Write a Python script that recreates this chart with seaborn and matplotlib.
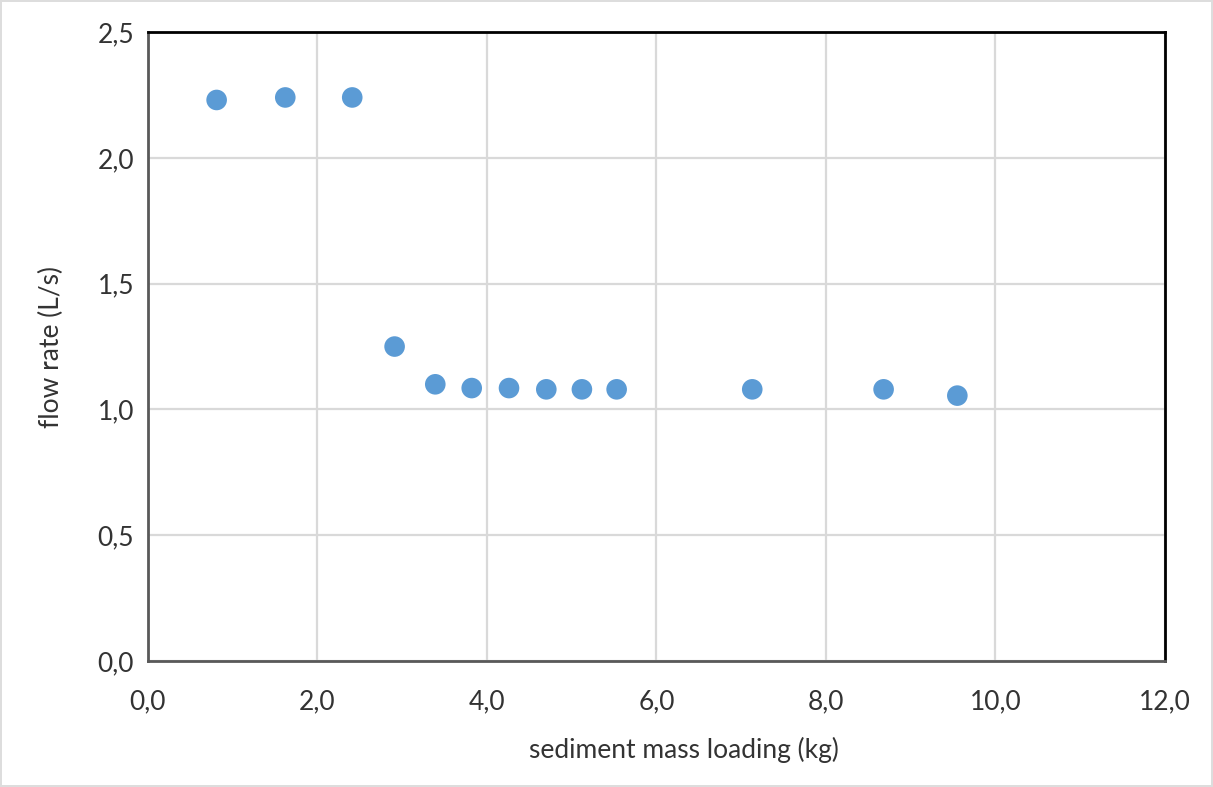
import matplotlib
matplotlib.use("Agg")
import matplotlib.pyplot as plt
import seaborn as sns
import pandas as pd
from matplotlib.ticker import FuncFormatter, MultipleLocator

mass_kg = [0.81, 1.62, 2.41, 2.91, 3.39, 3.82, 4.26, 4.70, 5.12, 5.53, 7.13, 8.68, 9.55]
flow_ls = [2.23, 2.24, 2.24, 1.25, 1.10, 1.085, 1.085, 1.08, 1.08, 1.08, 1.08, 1.08, 1.055]

df = pd.DataFrame({"mass": mass_kg, "flow": flow_ls})

sns.set_theme(style="white")
plt.rcParams['font.family'] = ['Lato', 'DejaVu Sans']

fig = plt.figure(figsize=(12.13, 7.87), dpi=100)
ax = fig.add_axes([0.122, 0.160, 0.8384, 0.7993])

sns.scatterplot(data=df, x="mass", y="flow", ax=ax, s=220, color="#5B9BD5",
                edgecolor="none", zorder=3)

ax.set_xlim(0, 12)
ax.set_ylim(0, 2.5)
ax.xaxis.set_major_locator(MultipleLocator(2))
ax.yaxis.set_major_locator(MultipleLocator(0.5))
fmt = FuncFormatter(lambda v, p: f"{v:.1f}".replace(".", ","))
ax.xaxis.set_major_formatter(fmt)
ax.yaxis.set_major_formatter(fmt)
ax.grid(True, color="#D9D9D9", linewidth=1.6, zorder=0)
ax.set_axisbelow(True)

for side in ["left", "bottom"]:
    ax.spines[side].set_color("#595959")
    ax.spines[side].set_linewidth(2.0)
for side in ["top", "right"]:
    ax.spines[side].set_color("#000000")
    ax.spines[side].set_linewidth(2.0)

ax.tick_params(axis="both", labelsize=19, colors="#333333", length=0)
ax.tick_params(axis="x", pad=20)
ax.tick_params(axis="y", pad=10)
ax.set_xlabel("sediment mass loading (kg)", fontsize=19, color="#333333")
ax.xaxis.set_label_coords(0.527, -0.12)
ax.set_ylabel("flow rate (L/s)", fontsize=19, color="#333333", labelpad=24)

fig.patch.set_edgecolor("#DDDDDD")
fig.patch.set_linewidth(1.5)

fig.savefig("out.png", dpi=100, edgecolor=fig.get_edgecolor())
